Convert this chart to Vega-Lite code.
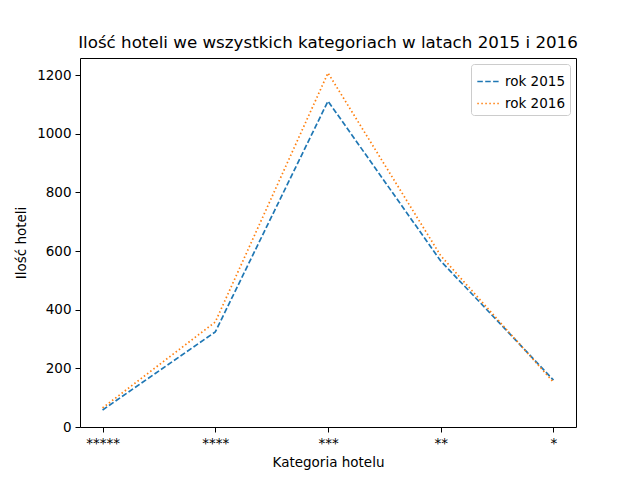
{
  "$schema": "https://vega.github.io/schema/vega-lite/v6.json",
  "autosize": {"type": "none"},
  "padding": {"left": 80, "top": 58, "right": 64, "bottom": 53},
  "width": 496,
  "height": 369,
  "background": "white",
  "title": {"text": "Ilość hoteli we wszystkich kategoriach w latach 2015 i 2016", "font": "DejaVu Sans", "fontSize": 16.7, "fontWeight": "normal", "offset": 6},
  "config": {
    "font": "DejaVu Sans",
    "view": {"stroke": "black", "strokeWidth": 1},
    "axis": {"grid": false, "domain": false, "tickColor": "black", "tickSize": 5, "labelColor": "black", "labelFontSize": 13.5, "titleFontSize": 13.5, "titleFontWeight": "normal", "titleColor": "black", "labelPadding": 4}
  },
  "data": {"values": [
    {"kategoria": "*****", "rok": "rok 2015", "ilosc": 58},
    {"kategoria": "****", "rok": "rok 2015", "ilosc": 324},
    {"kategoria": "***", "rok": "rok 2015", "ilosc": 1111},
    {"kategoria": "**", "rok": "rok 2015", "ilosc": 566},
    {"kategoria": "*", "rok": "rok 2015", "ilosc": 160},
    {"kategoria": "*****", "rok": "rok 2016", "ilosc": 65},
    {"kategoria": "****", "rok": "rok 2016", "ilosc": 358},
    {"kategoria": "***", "rok": "rok 2016", "ilosc": 1207},
    {"kategoria": "**", "rok": "rok 2016", "ilosc": 584},
    {"kategoria": "*", "rok": "rok 2016", "ilosc": 153}
  ]},
  "mark": {"type": "line", "strokeWidth": 1.7},
  "encoding": {
    "x": {"field": "kategoria", "type": "ordinal", "sort": ["*****", "****", "***", "**", "*"],
      "scale": {"type": "point", "padding": 0.2}, "title": "Kategoria hotelu", "axis": {"labelAngle": 0, "titlePadding": 6}},
    "y": {"field": "ilosc", "type": "quantitative", "scale": {"domain": [0, 1258], "nice": false},
      "axis": {"values": [0, 200, 400, 600, 800, 1000, 1200], "format": "d", "titlePadding": 8}, "title": "Ilość hoteli"},
    "color": {"field": "rok", "type": "nominal", "scale": {"range": ["#1f77b4", "#ff7f0e"]}, "title": null,
      "legend": {"orient": "top-right", "symbolType": "stroke", "symbolSize": 500, "symbolStrokeWidth": 1.7, "labelFontSize": 13.5, "rowPadding": 3, "strokeColor": "#cccccc", "fillColor": "white", "padding": 5, "cornerRadius": 3, "offset": 6}},
    "strokeDash": {"field": "rok", "type": "nominal", "scale": {"range": [[5.5, 2.4], [1.5, 2.5]]}, "title": null}
  }
}
